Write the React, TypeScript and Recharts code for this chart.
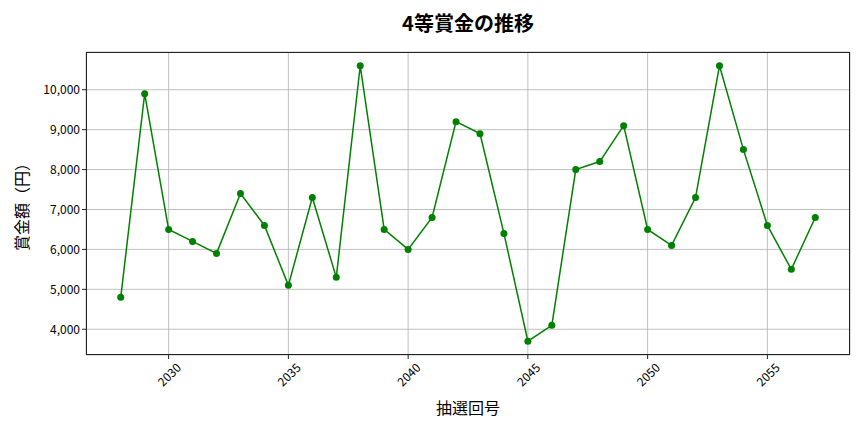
import { LineChart, Line, XAxis, YAxis, CartesianGrid } from "recharts";

const draws = [
  2028, 2029, 2030, 2031, 2032, 2033, 2034, 2035, 2036, 2037, 2038, 2039, 2040, 2041, 2042,
  2043, 2044, 2045, 2046, 2047, 2048, 2049, 2050, 2051, 2052, 2053, 2054, 2055, 2056, 2057,
];
const prizes = [
  4800, 9900, 6500, 6200, 5900, 7400, 6600, 5100, 7300, 5300, 10600, 6500, 6000, 6800, 9200,
  8900, 6400, 3700, 4100, 8000, 8200, 9100, 6500, 6100, 7300, 10600, 8500, 6600, 5500, 6800,
];
const xTicks = [2030, 2035, 2040, 2045, 2050, 2055];
const yTicks = [4000, 5000, 6000, 7000, 8000, 9000, 10000];

const data = draws.map((d, i) => ({ draw: d, prize: prizes[i] }));

const font = '"Noto Sans CJK JP", "Noto Sans", sans-serif';

function RotatedTick(props: any) {
  const { x, y, payload } = props;
  return (
    <g transform={`translate(${x},${y + 13})`}>
      <text
        transform="rotate(-45)"
        textAnchor="middle"
        dominantBaseline="central"
        fontSize={12}
        fill="#000"
        fontFamily={font}
      >
        {payload.value}
      </text>
    </g>
  );
}

export default function App() {
  return (
    <div
      style={{
        position: "relative",
        width: 864,
        height: 432,
        margin: -8,
        background: "#fff",
        fontFamily: font,
      }}
    >
      <div
        style={{
          position: "absolute",
          top: 8,
          left: 86,
          width: 764,
          textAlign: "center",
          fontSize: 20,
          fontWeight: "bold",
          color: "#000",
        }}
      >
        4等賞金の推移
      </div>
      <LineChart
        width={864}
        height={432}
        data={data}
        margin={{ top: 52, right: 14, bottom: 0, left: 0 }}
      >
        <CartesianGrid stroke="#b0b0b0" strokeWidth={0.8} />
        <XAxis
          dataKey="draw"
          type="number"
          domain={[2026.55, 2058.45]}
          ticks={xTicks}
          allowDataOverflow
          height={77}
          tickSize={4}
          axisLine={false}
          tickLine={{ stroke: "#222" }}
          tick={<RotatedTick />}
        />
        <YAxis
          type="number"
          domain={[3355, 10945]}
          ticks={yTicks}
          allowDataOverflow
          width={86}
          tickSize={4}
          axisLine={false}
          tickLine={{ stroke: "#222" }}
          tick={{ fontSize: 12, fill: "#000", fontFamily: font }}
          tickFormatter={(v: number) => v.toLocaleString("en-US")}
        />
        <Line
          type="linear"
          dataKey="prize"
          stroke="#008000"
          strokeWidth={1.5}
          dot={{ r: 3.5, fill: "#008000", stroke: "#008000", strokeWidth: 0 }}
          isAnimationActive={false}
        />
      </LineChart>
      <div
        style={{
          position: "absolute",
          left: 86,
          top: 52,
          width: 764,
          height: 303,
          border: "1px solid #222",
          boxSizing: "border-box",
          pointerEvents: "none",
        }}
      />
      <div
        style={{
          position: "absolute",
          top: 395,
          left: 86,
          width: 764,
          textAlign: "center",
          fontSize: 16,
          color: "#000",
        }}
      >
        抽選回号
      </div>
      <div
        style={{
          position: "absolute",
          left: 21,
          top: 203,
          transform: "translate(-50%, -50%) rotate(-90deg)",
          whiteSpace: "nowrap",
          fontSize: 16,
          color: "#000",
        }}
      >
        賞金額（円）
      </div>
    </div>
  );
}
